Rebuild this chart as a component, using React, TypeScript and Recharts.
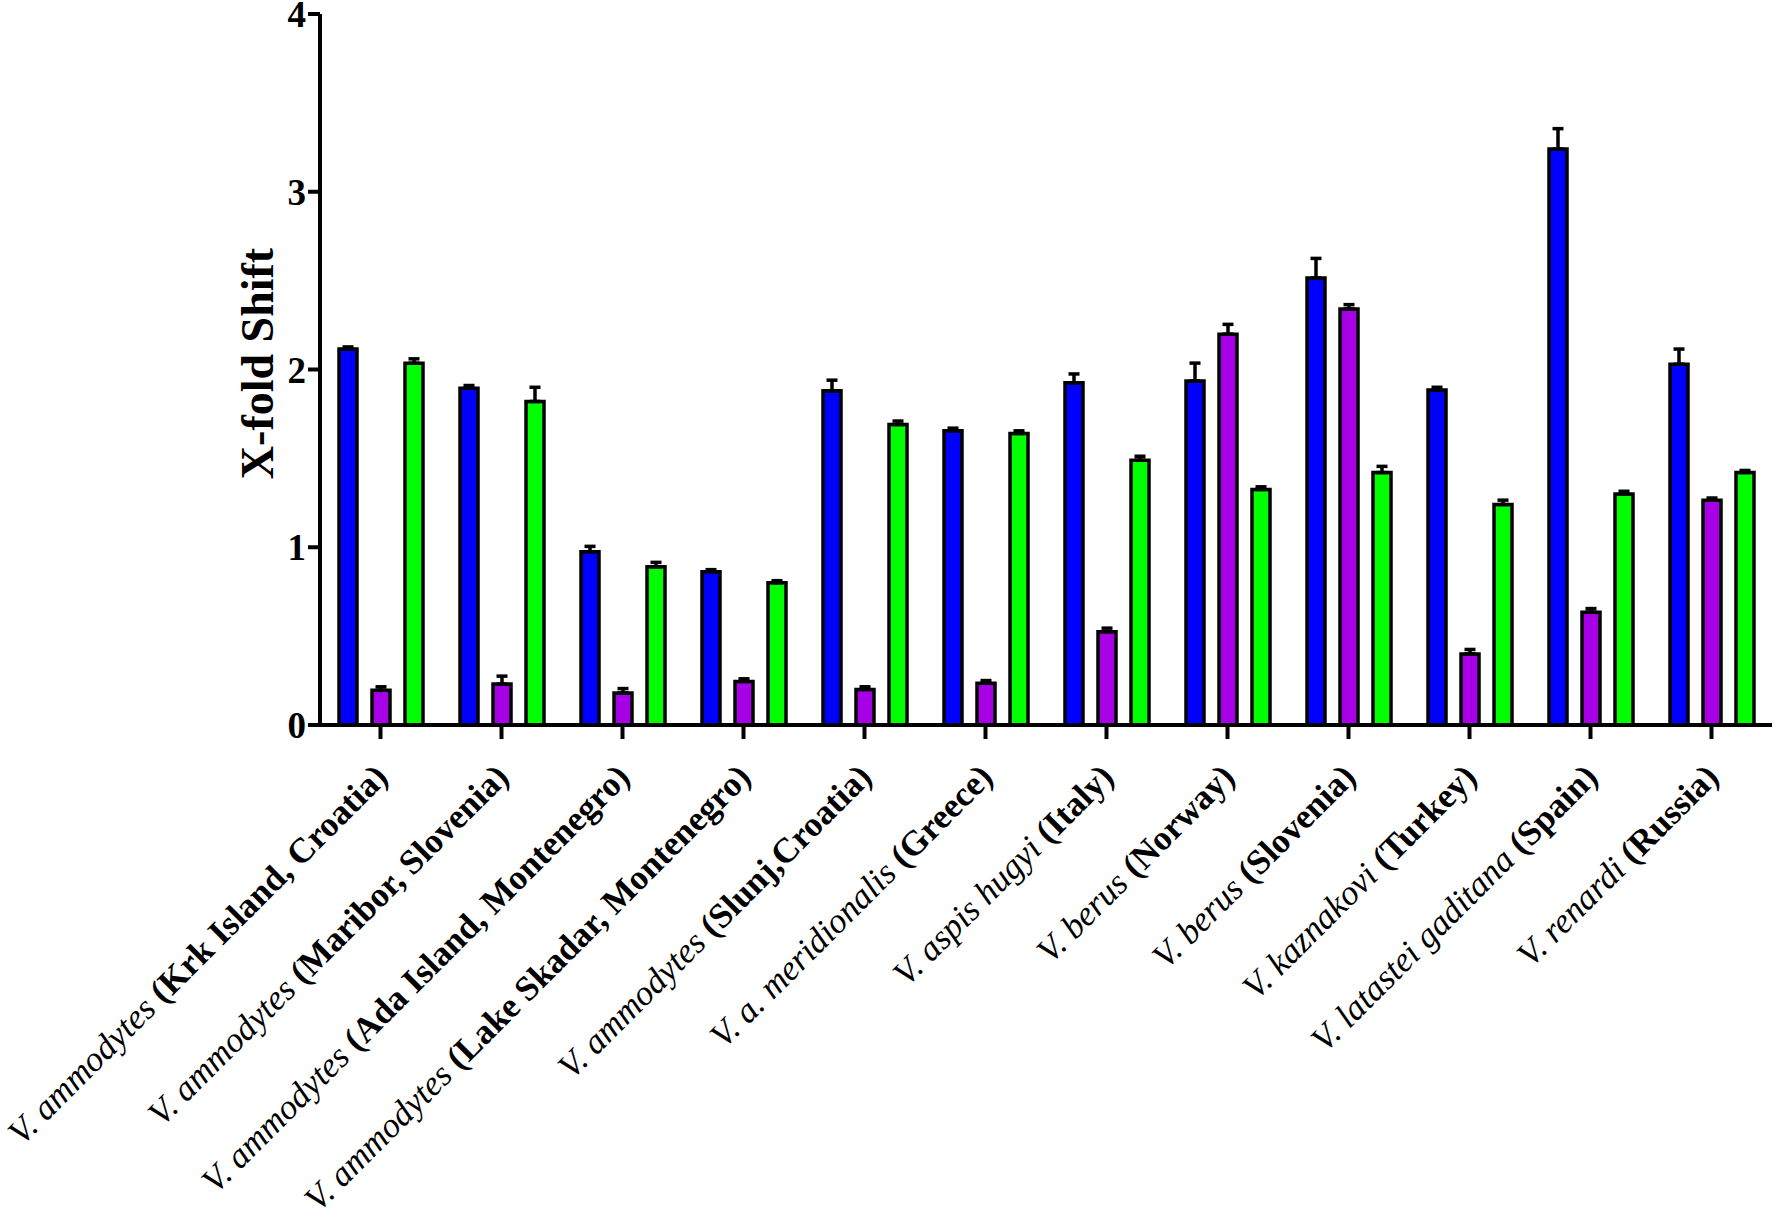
import React from 'react';
import { BarChart, Bar, XAxis, YAxis, ErrorBar } from 'recharts';

const speciesNames = [
  'V. ammodytes',
  'V. ammodytes',
  'V. ammodytes',
  'V. ammodytes',
  'V. ammodytes',
  'V. a. meridionalis',
  'V. aspis hugyi',
  'V. berus',
  'V. berus',
  'V. kaznakovi',
  'V. latastei gaditana',
  'V. renardi',
];

const locations = [
  '(Krk Island, Croatia)',
  '(Maribor, Slovenia)',
  '(Ada Island, Montenegro)',
  '(Lake Skadar, Montenegro)',
  '(Slunj,Croatia)',
  '(Greece)',
  '(Italy)',
  '(Norway)',
  '(Slovenia)',
  '(Turkey)',
  '(Spain)',
  '(Russia)',
];

const blueValues = [2.115, 1.895, 0.975, 0.862, 1.88, 1.655, 1.925, 1.936, 2.515, 1.885, 3.24, 2.03];
const blueErrors = [0.012, 0.015, 0.03, 0.012, 0.06, 0.015, 0.05, 0.1, 0.11, 0.015, 0.115, 0.085];
const purpleValues = [0.195, 0.23, 0.18, 0.245, 0.2, 0.235, 0.525, 2.199, 2.34, 0.4, 0.635, 1.265];
const purpleErrors = [0.02, 0.045, 0.025, 0.015, 0.015, 0.015, 0.02, 0.055, 0.025, 0.025, 0.02, 0.012];
const greenValues = [2.035, 1.82, 0.89, 0.8, 1.69, 1.64, 1.49, 1.325, 1.42, 1.24, 1.3, 1.42];
const greenErrors = [0.025, 0.08, 0.025, 0.012, 0.02, 0.015, 0.022, 0.015, 0.035, 0.025, 0.015, 0.012];

const yTicks = [0, 1, 2, 3, 4];

const data = speciesNames.map((s, i) => ({
  name: `${s} ${locations[i]}`,
  blue: blueValues[i],
  blueErr: [0, blueErrors[i]],
  purple: purpleValues[i],
  purpleErr: [0, purpleErrors[i]],
  green: greenValues[i],
  greenErr: [0, greenErrors[i]],
}));

const FONT = '"Liberation Serif", "Times New Roman", serif';

const XTick = (props: any) => {
  const { x, y, payload, index } = props;
  const i = payload && payload.index !== undefined ? payload.index : index;
  return (
    <g transform={`translate(${x + 9},${y + 40})`}>
      <text
        transform="rotate(-45)"
        textAnchor="end"
        fontSize={35}
        fontFamily={FONT}
        fill="#000"
        style={{ whiteSpace: 'pre' }}
      >
        <tspan fontStyle="italic">{speciesNames[i] + ' '}</tspan>
        <tspan fontWeight="bold">{locations[i]}</tspan>
      </text>
    </g>
  );
};

const YTitle = (props: any) => {
  const vb = props.viewBox || { x: 0, y: 14, width: 320, height: 711 };
  const cx = vb.x + vb.width - 47;
  const cy = vb.y + vb.height / 2 - 6;
  return (
    <text
      x={cx}
      y={cy}
      transform={`rotate(-90, ${cx}, ${cy})`}
      textAnchor="middle"
      fontSize={46}
      fontWeight="bold"
      fontFamily={FONT}
      fill="#000"
    >
      X-fold Shift
    </text>
  );
};

export default function App() {
  return (
    <div style={{ position: 'absolute', left: 0, top: 0, width: 1774, height: 1216, background: '#fff' }}>
      <BarChart
        width={1774}
        height={1216}
        data={data}
        margin={{ top: 14, right: 2, left: 0, bottom: 0 }}
        barSize={18}
        barGap={15}
      >
        <XAxis
          dataKey="name"
          height={491}
          interval={0}
          tick={<XTick />}
          tickSize={14}
          tickMargin={0}
          axisLine={{ stroke: '#000', strokeWidth: 4 }}
          tickLine={{ stroke: '#000', strokeWidth: 4 }}
        />
        <YAxis
          width={320}
          domain={[0, 4]}
          ticks={yTicks}
          interval={0}
          tickSize={12}
          tickMargin={2}
          axisLine={{ stroke: '#000', strokeWidth: 4 }}
          tickLine={{ stroke: '#000', strokeWidth: 4 }}
          tick={{ fontSize: 37, fontWeight: 'bold', fontFamily: FONT, fill: '#000' }}
          label={{ content: YTitle }}
        />
        <Bar dataKey="blue" fill="#0000FF" stroke="#000" strokeWidth={3.5} isAnimationActive={false}>
          <ErrorBar dataKey="blueErr" width={5.5} stroke="#000" strokeWidth={3.5} direction="y" />
        </Bar>
        <Bar dataKey="purple" fill="#A800E6" stroke="#000" strokeWidth={3.5} isAnimationActive={false}>
          <ErrorBar dataKey="purpleErr" width={5.5} stroke="#000" strokeWidth={3.5} direction="y" />
        </Bar>
        <Bar dataKey="green" fill="#00FF00" stroke="#000" strokeWidth={3.5} isAnimationActive={false}>
          <ErrorBar dataKey="greenErr" width={5.5} stroke="#000" strokeWidth={3.5} direction="y" />
        </Bar>
      </BarChart>
    </div>
  );
}
